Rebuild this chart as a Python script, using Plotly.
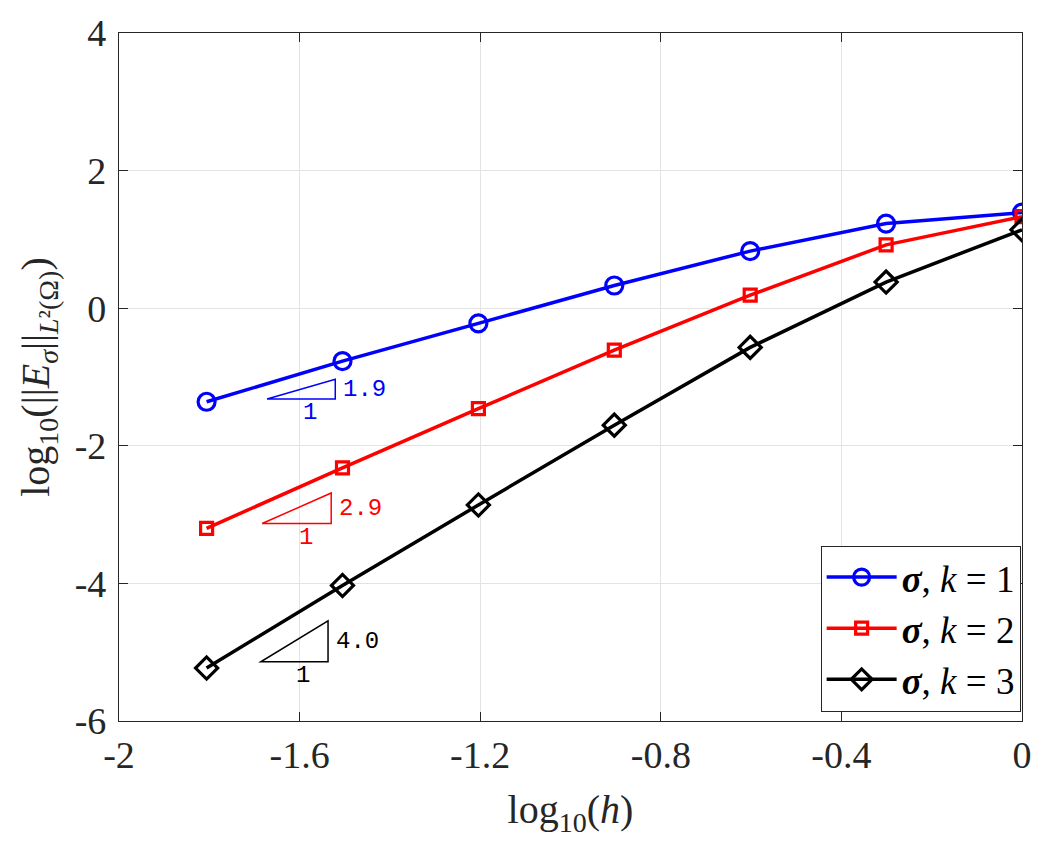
import numpy as np
import plotly.graph_objects as go

# ---- data ----
log_h = [-1.806, -1.505, -1.204, -0.903, -0.602, -0.301, 0.0]
err_k1 = [-1.36, -0.77, -0.22, 0.33, 0.83, 1.23, 1.39]
err_k2 = [-3.20, -2.32, -1.46, -0.61, 0.19, 0.92, 1.33]
err_k3 = [-5.23, -4.03, -2.86, -1.70, -0.57, 0.38, 1.14]
series_names = ["<b><i>σ</i></b>, <i>k</i> = 1", "<b><i>σ</i></b>, <i>k</i> = 2", "<b><i>σ</i></b>, <i>k</i> = 3"]

# slope triangles
tri_slopes = [1.9, 2.9, 4.0]
tri_labels = ["1.9", "2.9", "4.0"]
tri_x0 = [-1.672, -1.683, -1.686]
tri_x1 = [-1.521, -1.530, -1.537]
tri_y0 = [-1.32, -3.13, -5.14]

x_ticks = [-2, -1.6, -1.2, -0.8, -0.4, 0]
x_tick_labels = ["-2", "-1.6", "-1.2", "-0.8", "-0.4", "0"]
y_ticks = [-6, -4, -2, 0, 2, 4]
y_tick_labels = ["-6", "-4", "-2", "0", "2", "4"]

colors = ["#0000ff", "#ff0000", "#000000"]
symbols = ["circle-open", "square-open", "diamond-open"]
msizes = [17, 12, 17]

serif = "Liberation Serif"
mono = "Liberation Mono"

fig = go.Figure()
for ys, name, c, s, ms in zip([err_k1, err_k2, err_k3], series_names, colors, symbols, msizes):
    fig.add_trace(go.Scatter(
        x=log_h, y=ys, name=name, mode="lines+markers",
        line=dict(color=c, width=3.5),
        marker=dict(symbol=s, size=ms, color=c, line=dict(color=c, width=3.2)),
    ))

shapes = []
annotations = []
for sl, lab, x0, x1, y0, c in zip(tri_slopes, tri_labels, tri_x0, tri_x1, tri_y0, colors):
    y1 = y0 + sl * (x1 - x0)
    shapes.append(dict(type="path", xref="x", yref="y",
                       path=f"M {x0} {y0} L {x1} {y0} L {x1} {y1} Z",
                       line=dict(color=c, width=1.5)))
    annotations.append(dict(x=x1, y=(y0 + y1) / 2, xref="x", yref="y", text=lab,
                            showarrow=False, xanchor="left", yanchor="middle", xshift=6,
                            font=dict(family=mono, size=24, color=c)))
    annotations.append(dict(x=(x0 + x1) / 2 + 0.02, y=y0, xref="x", yref="y", text="1",
                            showarrow=False, xanchor="center", yanchor="top", yshift=2,
                            font=dict(family=mono, size=24, color=c)))

axis_common = dict(showline=True, linecolor="#262626", linewidth=1.2, mirror="ticks",
                   ticks="inside", ticklen=9, tickwidth=1.2, tickcolor="#262626",
                   showgrid=True, gridcolor="#e3e3e3", gridwidth=1, zeroline=False,
                   tickfont=dict(family=serif, size=38, color="#262626"))

fig.update_layout(
    width=1050, height=855,
    margin=dict(l=119, r=28, t=31, b=134),
    font=dict(family=serif),
    paper_bgcolor="white", plot_bgcolor="white",
    xaxis=dict(range=[-2, 0], tickvals=x_ticks, ticktext=x_tick_labels, ticklabelstandoff=0,
               title=dict(text="log<sub>10</sub>(<i>h</i>)", font=dict(family=serif, size=40, color="#262626"), standoff=20),
               **axis_common),
    yaxis=dict(range=[-6, 4], tickvals=y_ticks, ticktext=y_tick_labels, ticklabelstandoff=4,
               title=dict(text="log<sub>10</sub>(||<i>E</i><sub><i>σ</i></sub>||<sub><i>L</i>²<span>(Ω)</span></sub>)",
                          font=dict(family=serif, size=40, color="#262626"), standoff=12),
               **axis_common),
    legend=dict(x=0.9985, y=0.255, xanchor="right", yanchor="top",
                bgcolor="white", bordercolor="#262626", borderwidth=1,
                font=dict(family=serif, size=37, color="black"),
                itemwidth=70, tracegroupgap=0),
    shapes=shapes, annotations=annotations, showlegend=True,
)

fig.write_html("out.html")
